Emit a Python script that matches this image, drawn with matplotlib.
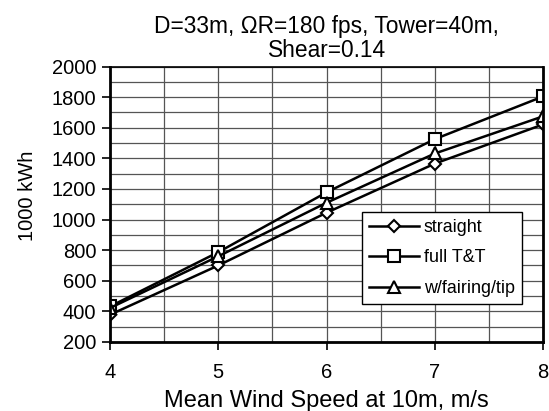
import numpy as np
import matplotlib.pyplot as plt
from matplotlib.ticker import MultipleLocator

plt.rcParams['font.family'] = ['Liberation Sans', 'DejaVu Sans']

wind = [4, 5, 6, 7, 8]
straight = [378, 700, 1045, 1366, 1622]
full_tt = [432, 787, 1178, 1526, 1805]
fairing = [422, 760, 1110, 1432, 1675]

fig = plt.figure(figsize=(5.49, 4.11), dpi=100)
ax = fig.add_axes([0.2004, 0.168, 0.789, 0.670])

style = dict(color='black', linewidth=1.8, markerfacecolor='white',
             markeredgecolor='black', markeredgewidth=1.5)
ax.plot(wind, straight, marker='D', markersize=6.5, label='straight', **style)
ax.plot(wind, full_tt, marker='s', markersize=8.5, label='full T&T', **style)
ax.plot(wind, fairing, marker='^', markersize=8.5, label='w/fairing/tip', **style)

ax.set_xlim(4, 8)
ax.set_ylim(200, 2000)
ax.set_xticks(wind)
ax.set_yticks(np.arange(200, 2001, 200))
ax.xaxis.set_minor_locator(MultipleLocator(0.5))
ax.yaxis.set_minor_locator(MultipleLocator(100))
ax.grid(True, which='both', color='#555555', linewidth=0.9)
ax.set_axisbelow(True)
ax.tick_params(axis='both', which='major', direction='out', length=6, width=1.2,
               labelsize=14.5, colors='black', pad=4)
ax.tick_params(axis='both', which='minor', length=0)
ax.tick_params(axis='x', pad=9)
for side in ['left', 'bottom', 'right']:
    ax.spines[side].set_linewidth(2)
ax.spines['top'].set_linewidth(1.2)

ax.set_xlabel('Mean Wind Speed at 10m, m/s', fontsize=17, labelpad=6)
ax.set_ylabel('1000 kWh', fontsize=14.5)
ax.yaxis.set_label_coords(-0.168, 0.53)
ax.set_title('D=33m, \u03a9R=180 fps, Tower=40m,\nShear=0.14', fontsize=16.4,
             linespacing=1.05, pad=7)

leg = ax.legend(loc='lower right', bbox_to_anchor=(0.951, 0.138), fontsize=12.9,
                handlelength=2.8, handletextpad=0.25, borderpad=0.4,
                labelspacing=0.75, fancybox=False, framealpha=1,
                edgecolor='black', borderaxespad=0)
leg.get_frame().set_linewidth(1)

fig.savefig('out.png', dpi=100)
